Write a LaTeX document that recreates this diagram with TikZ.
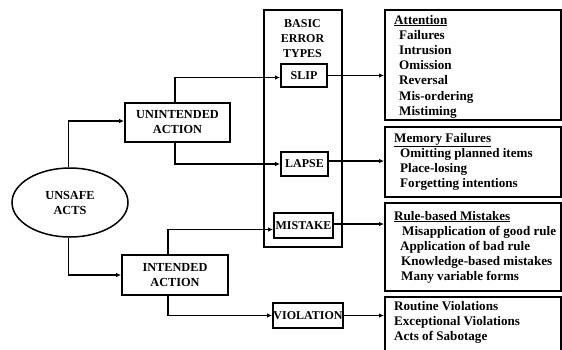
\documentclass[tikz,border=0pt]{standalone}
\usepackage{fontspec}
\setmainfont{Liberation Serif}
\usetikzlibrary{arrows.meta,shapes.geometric}

\begin{document}
\begin{tikzpicture}[x=1pt,y=-1pt,
  lbl/.style={draw, line width=1.8pt, inner sep=0pt, align=center,
    font=\bfseries\fontsize{12}{15}\selectfont},
  actbox/.style={lbl, font=\bfseries\fontsize{12.3}{15}\selectfont},
  listbox/.style={draw, line width=1.9pt},
  item/.style={inner sep=0pt, anchor=base west,
    font=\bfseries\fontsize{13.1}{15}\selectfont},
  conn/.style={line width=1.5pt, -{Latex[length=5pt,width=4.5pt]}}]
\useasboundingbox (0,0) rectangle (562,349);

% outer frame holding the basic error types
\node[draw, line width=1.8pt, minimum width=78pt, minimum height=237pt, inner sep=0pt]
  (types) at (303,128.5) {};
\node[inner sep=0pt, align=center, anchor=north, font=\bfseries\fontsize{12}{15}\selectfont]
  (typestxt) at (302.5,19) {BASIC\\ERROR\\TYPES};

% left-hand nodes
\node[draw, ellipse, line width=1.5pt, minimum width=116pt, minimum height=69pt,
  inner sep=0pt, align=center, font=\bfseries\fontsize{12.3}{15}\selectfont]
  (unsafe) at (70,202.5) {UNSAFE\\ACTS};
\node[actbox, minimum width=105pt, minimum height=39pt] (unint) at (177.5,122.5) {UNINTENDED\\ACTION};
\node[actbox, minimum width=106pt, minimum height=40pt] (intd) at (175,275) {INTENDED\\ACTION};

% error type labels
\node[lbl, minimum width=46pt, minimum height=23pt] (slip) at (304,75.5) {SLIP};
\node[lbl, minimum width=47pt, minimum height=24pt] (lapse) at (304.5,164) {LAPSE};
\node[lbl, minimum width=59pt, minimum height=25pt] (mistake) at (303.5,225.5) {MISTAKE};
\node[lbl, minimum width=70pt, minimum height=25pt] (violation) at (308,315.5) {VIOLATION};

% description boxes on the right
\node[listbox, minimum width=176pt, minimum height=110pt, inner sep=0pt] (att) at (473,65) {};
\node[listbox, minimum width=176pt, minimum height=70pt, inner sep=0pt] (mem) at (473,162) {};
\node[listbox, minimum width=176pt, minimum height=88pt, inner sep=0pt] (rule) at (473,247) {};
\node[listbox, minimum width=176pt, minimum height=70pt, inner sep=0pt] (viol) at (473,332) {};

% texts of the description boxes
\node[item] (att0) at (394,24) {\underline{Attention}};
\foreach \t [count=\i] in {Failures,Intrusion,Omission,Reversal,Mis-ordering,Mistiming}
  \node[item] (att\i) at (399,{24+15.2*\i}) {\t};

\node[item] (mem0) at (394,142) {\underline{Memory Failures}};
\foreach \xx/\t [count=\i] in {400/Omitting planned items,400/Place-losing,400/Forgetting intentions}
  \node[item] (mem\i) at (\xx,{142+15.3*\i}) {\t};

\node[item] (rule0) at (394,220) {\underline{Rule-based Mistakes}};
\foreach \xx/\t [count=\i] in {402/Misapplication of good rule,400/Application of bad rule,401/Knowledge-based mistakes,401/Many variable forms}
  \node[item] (rule\i) at (\xx,{220+15.2*\i}) {\t};

\foreach \t [count=\i from 0] in {Routine Violations,Exceptional Violations,Acts of Sabotage}
  \node[item] (viol\i) at (394,{310+15.3*\i}) {\t};

% connectors
\draw[conn] ([xshift=-1.5pt]unsafe.north) |- ([yshift=1.5pt]unint.west);
\draw[conn] ([xshift=-1.5pt]unsafe.south) |- (intd.west);
\draw[conn] ([xshift=-2.5pt]unint.north) |- ([yshift=-2pt]slip.west);
\draw[conn] ([xshift=-2.5pt]unint.south) |- (lapse.west);
\draw[conn] ([xshift=-7pt]intd.north) |- ([yshift=-4pt]mistake.west);
\draw[conn] ([xshift=-7pt]intd.south) |- (violation.west);

\draw[conn] (slip.east) -- (slip.east -| att.west);
\draw[conn] ([yshift=3pt]lapse.east) -- ([yshift=3pt]lapse.east -| mem.west);
\draw[conn] ([yshift=1.5pt]mistake.east) -- ([yshift=1.5pt]mistake.east -| rule.west);
\draw[conn] (violation.east) -- (violation.east -| viol.west);
\end{tikzpicture}
\end{document}
